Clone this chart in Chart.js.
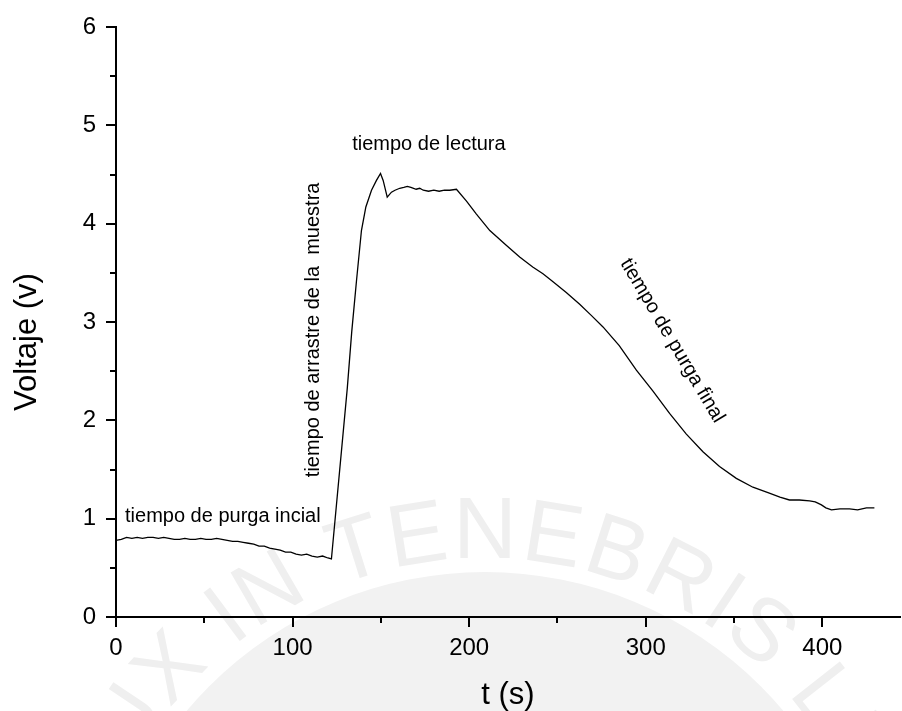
<!DOCTYPE html>
<html>
<head>
<meta charset="utf-8">
<script src="https://cdn.jsdelivr.net/npm/chart.js@4.4.1/dist/chart.umd.min.js"></script>
<style>
  html, body { margin: 0; padding: 0; background: #fff; }
  #wrap { width: 902px; height: 711px; }
</style>
</head>
<body>
<div id="wrap"><canvas id="voltajeChart"></canvas></div>
<script>
// señal del sensor: tiempo (s) y voltaje (v)
const tiempo = [
  0, 3, 6, 9, 12, 15, 18, 21, 24, 27, 30, 33, 36, 39, 42, 45, 48, 51, 54, 57,
  60, 63, 66, 69, 72, 75, 78, 81, 84, 87, 90, 93, 96, 99, 102, 105, 108, 111, 114, 117,
  120, 122, 131, 133.5, 136.2, 139, 141.5, 144.7, 147.5, 149.8, 151.3, 153.6, 156, 158, 160.7, 163,
  165, 167, 170, 172, 174, 177, 180, 183, 186, 189, 192.8, 198.5, 204, 211.7, 221, 228.6,
  236, 241.8, 247.5, 255, 262.6, 269, 275.8, 285, 294.7, 304, 313.5, 323, 332.4, 341.8,
  351.3, 360.7, 370, 376, 381.4, 387, 392.8, 396, 399.5, 402, 405.2, 410, 415.4, 420, 425, 429.5
];
const voltaje = [
  0.78, 0.79, 0.81, 0.80, 0.81, 0.80, 0.81, 0.81, 0.80, 0.81, 0.80, 0.79, 0.79, 0.80, 0.79, 0.79, 0.80, 0.79, 0.79, 0.80,
  0.79, 0.78, 0.77, 0.77, 0.76, 0.75, 0.74, 0.72, 0.72, 0.70, 0.69, 0.68, 0.66, 0.66, 0.64, 0.63, 0.64, 0.62, 0.61, 0.62,
  0.60, 0.59, 2.33, 2.90, 3.42, 3.93, 4.17, 4.34, 4.44, 4.51, 4.44, 4.27, 4.32, 4.34, 4.36, 4.37,
  4.38, 4.37, 4.35, 4.36, 4.34, 4.33, 4.34, 4.33, 4.34, 4.34, 4.35, 4.23, 4.10, 3.93, 3.78, 3.66,
  3.56, 3.49, 3.41, 3.30, 3.18, 3.07, 2.95, 2.76, 2.51, 2.30, 2.07, 1.86, 1.68, 1.53,
  1.41, 1.32, 1.26, 1.22, 1.19, 1.19, 1.18, 1.17, 1.14, 1.11, 1.09, 1.10, 1.10, 1.09, 1.11, 1.11
];

const ticksX = [0, 100, 200, 300, 400];
const ticksY = [0, 1, 2, 3, 4, 5, 6];
const menoresX = [50, 150, 250, 350];
const menoresY = [0.5, 1.5, 2.5, 3.5, 4.5, 5.5];

// rotulos de cada etapa del ensayo
const etapas = ["tiempo de purga incial", "tiempo de arrastre de la  muestra", "tiempo de lectura", "tiempo de purga final"];
const etapasT = [5.1, 111.7, 177.2, 315];
const etapasV = [1.02, 2.92, 4.81, 2.81];
const etapasGiro = [0, -90, 0, 59.4];
const etapasAlineo = ["left", "center", "center", "center"];

const FUENTE = '"Liberation Sans", Arial, sans-serif';
Chart.defaults.font.family = FUENTE;
Chart.defaults.color = "#000";

// sello de fondo (marca de agua)
const sello = {
  id: "sello",
  beforeDraw(chart) {
    const ctx = chart.ctx;
    const cx = 485, cy = 962, r = 390;
    ctx.save();
    ctx.fillStyle = "#f2f2f2";
    ctx.beginPath();
    ctx.arc(cx, cy, r, 0, Math.PI * 2);
    ctx.fill();
    ctx.font = "88px " + FUENTE;
    ctx.fillStyle = "#efefef";
    ctx.textAlign = "center";
    ctx.textBaseline = "alphabetic";
    const lema = "LUX IN TENEBRIS LUCET";
    const rb = r + 14;
    const letras = [...lema];
    const anchos = letras.map(c => ctx.measureText(c).width + 3);
    const centros = [];
    let acc = 0;
    anchos.forEach(w => { centros.push(acc + w / 2); acc += w; });
    const ref = centros[lema.indexOf("TENEBRIS") + 2];
    letras.forEach((c, i) => {
      const ang = (centros[i] - ref) / rb;
      ctx.save();
      ctx.translate(cx + rb * Math.sin(ang), cy - rb * Math.cos(ang));
      ctx.rotate(ang);
      ctx.fillText(c, 0, 0);
      ctx.restore();
    });
    ctx.restore();
  }
};

// marcas menores de los ejes y titulo del eje y
const ejes = {
  id: "ejes",
  afterDraw(chart) {
    const ctx = chart.ctx;
    const { x, y } = chart.scales;
    const area = chart.chartArea;
    ctx.save();
    ctx.strokeStyle = "#000";
    ctx.lineWidth = 2;
    ctx.beginPath();
    menoresX.forEach(v => {
      const px = Math.round(x.getPixelForValue(v));
      ctx.moveTo(px, area.bottom);
      ctx.lineTo(px, area.bottom + 6);
    });
    menoresY.forEach(v => {
      const py = Math.round(y.getPixelForValue(v));
      ctx.moveTo(area.left - 6, py);
      ctx.lineTo(area.left, py);
    });
    ctx.stroke();

    ctx.translate(27, 342);
    ctx.rotate(-Math.PI / 2);
    ctx.font = "31px " + FUENTE;
    ctx.fillStyle = "#000";
    ctx.textAlign = "center";
    ctx.textBaseline = "middle";
    ctx.fillText("Voltaje (v)", 0, 0);
    ctx.restore();
  }
};

// rotulos de las etapas
const rotulos = {
  id: "rotulos",
  afterDatasetsDraw(chart) {
    const ctx = chart.ctx;
    const { x, y } = chart.scales;
    ctx.save();
    ctx.font = "20px " + FUENTE;
    ctx.fillStyle = "#000";
    ctx.textBaseline = "middle";
    etapas.forEach((txt, i) => {
      ctx.save();
      ctx.translate(x.getPixelForValue(etapasT[i]), y.getPixelForValue(etapasV[i]));
      ctx.rotate(etapasGiro[i] * Math.PI / 180);
      ctx.textAlign = etapasAlineo[i];
      ctx.fillText(txt, 0, 0);
      ctx.restore();
    });
    ctx.restore();
  }
};

const ctx = document.getElementById("voltajeChart").getContext("2d");
new Chart(ctx, {
  type: "line",
  data: {
    datasets: [{
      data: tiempo.map((t, i) => ({ x: t, y: voltaje[i] })),
      borderColor: "#000",
      borderWidth: 1.3,
      pointRadius: 0,
      tension: 0,
      fill: false
    }]
  },
  options: {
    responsive: true,
    maintainAspectRatio: false,
    animation: false,
    devicePixelRatio: 1,
    layout: { padding: { left: 0, right: 2, top: 27, bottom: 0 } },
    plugins: {
      legend: { display: false },
      tooltip: { enabled: false }
    },
    scales: {
      x: {
        type: "linear",
        min: 0,
        max: 444,
        afterBuildTicks: s => { s.ticks = ticksX.map(v => ({ value: v })); },
        afterFit: s => { s.height = 94; },
        border: { display: true, color: "#000", width: 2 },
        grid: { drawOnChartArea: false, tickLength: 10, lineWidth: 2, color: "#000" },
        ticks: { font: { size: 24, lineHeight: 1 }, padding: 9, maxRotation: 0 },
        title: { display: true, text: "t (s)", font: { size: 31, lineHeight: 1 }, padding: { top: 13, bottom: 0 } }
      },
      y: {
        min: 0,
        max: 6,
        afterBuildTicks: s => { s.ticks = ticksY.map(v => ({ value: v })); },
        afterFit: s => { s.width = 116; },
        border: { display: true, color: "#000", width: 2 },
        grid: { drawOnChartArea: false, tickLength: 10, lineWidth: 2, color: "#000" },
        ticks: { font: { size: 24, lineHeight: 1 }, padding: 10 }
      }
    }
  },
  plugins: [sello, ejes, rotulos]
});
</script>
</body>
</html>
